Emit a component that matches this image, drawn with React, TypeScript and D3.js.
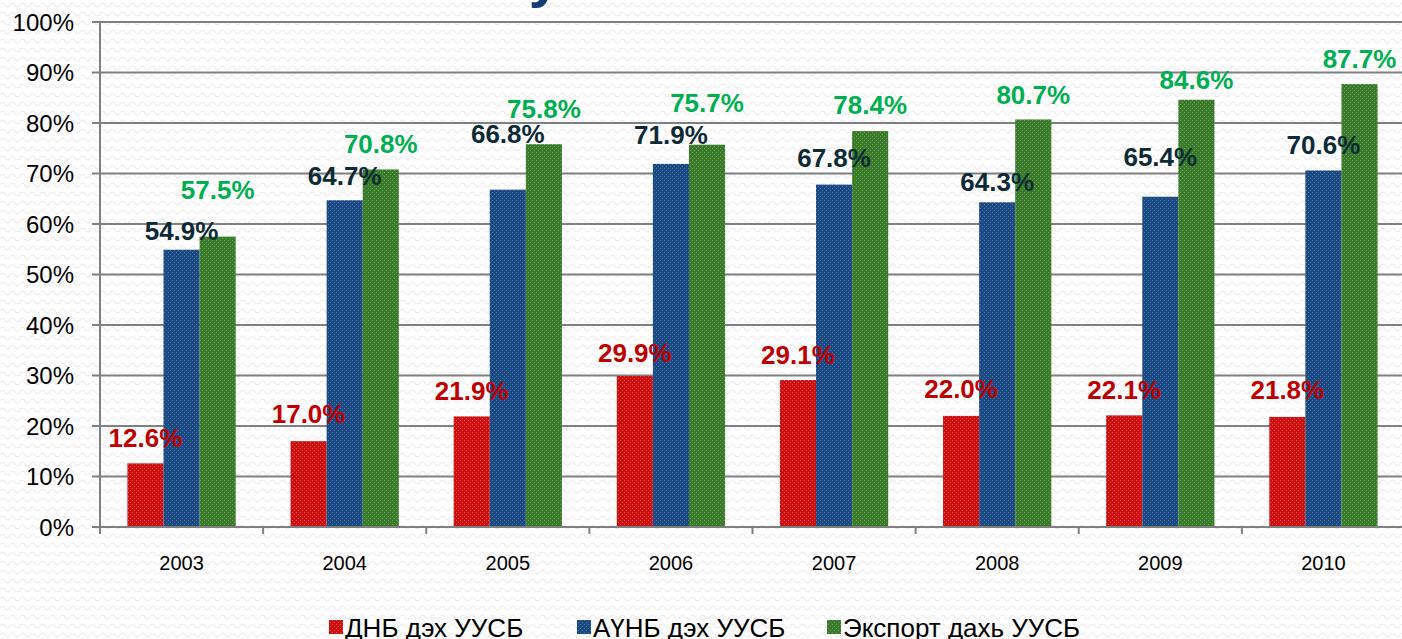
import * as d3 from 'd3';

const years = ['2003', '2004', '2005', '2006', '2007', '2008', '2009', '2010'];
const gnpShare = [12.6, 17.0, 21.9, 29.9, 29.1, 22.0, 22.1, 21.8];
const industryShare = [54.9, 64.7, 66.8, 71.9, 67.8, 64.3, 65.4, 70.6];
const exportShare = [57.5, 70.8, 75.8, 75.7, 78.4, 80.7, 84.6, 87.7];
const seriesNames = ['ДНБ дэх УУСБ', 'АҮНБ дэх УУСБ', 'Экспорт дахь УУСБ'];
const yTicks = [0, 10, 20, 30, 40, 50, 60, 70, 80, 90, 100];

const width = 1402;
const height = 639;
const left = 100;
const right = 1405;
const top = 22;
const bottom = 527;

const seriesStyle = [
  { key: 'red', base: '#cc1010', dot: '#e85050', label: '#c00000' },
  { key: 'blue', base: '#1b4a82', dot: '#4673a8', label: '#0d2b36' },
  { key: 'green', base: '#3a7b2b', dot: '#66a052', label: '#00b050' },
];
// how far above the bar top each hand-placed label sits (px)
const labelLift = [
  [26, 28, 26, 24, 26, 27, 26, 27],
  [19, 25, 56, 29, 27, 21, 40, 26],
  [47, 26, 36, 42, 27, 25, 20, 26],
];
const legendX = [329, 577, 827];

export default function App() {
  const series = [gnpShare, industryShare, exportShare];
  const x = d3.scaleBand().domain(years).range([left, right]).padding(0);
  const inner = d3
    .scaleBand()
    .domain(['0', '1', '2'])
    .range([0, x.bandwidth()])
    .paddingInner(0)
    .paddingOuter(0.76);
  const y = d3.scaleLinear().domain([0, 100]).range([bottom, top]);
  const boundaries = years.map((yr) => x(yr) ?? 0).concat([right]);

  return (
    <svg
      width={width}
      height={height}
      style={{ position: 'fixed', left: 0, top: 0, background: '#fff' }}
      fontFamily="'Liberation Sans', Arial, sans-serif"
    >
      <defs>
        <pattern id="bg" width="10" height="9" patternUnits="userSpaceOnUse">
          <path d="M0 5 Q2.5 1 5 5 T10 5" fill="none" stroke="#ececec" strokeWidth="1.2" />
        </pattern>
        {seriesStyle.map((s) => (
          <pattern key={s.key} id={`fill-${s.key}`} width="4" height="4" patternUnits="userSpaceOnUse">
            <rect width="4" height="4" fill={s.base} />
            <rect x="0" y="0" width="1" height="1" fill={s.dot} />
            <rect x="2" y="2" width="1" height="1" fill={s.dot} />
          </pattern>
        ))}
      </defs>
      <rect width={width} height={height} fill="url(#bg)" />

      <text x={545} y={-4} fontSize={58} fontWeight="bold" fill="#123f73" textAnchor="middle">
        у
      </text>

      {yTicks.map((t) => (
        <g key={t}>
          {t > 0 && (
            <line x1={left} x2={width} y1={y(t)} y2={y(t)} stroke="#808080" strokeWidth={2} />
          )}
          <line x1={left - 8} x2={left} y1={y(t)} y2={y(t)} stroke="#808080" strokeWidth={2} />
          <text x={74} y={y(t) + 8.5} fontSize={24} textAnchor="end" fill="#000">
            {t}%
          </text>
        </g>
      ))}

      {series.map((vals, si) =>
        vals.map((v, i) => (
          <rect
            key={`${si}-${i}`}
            x={(x(years[i]) ?? 0) + (inner(String(si)) ?? 0)}
            y={y(v)}
            width={inner.bandwidth()}
            height={bottom - y(v)}
            fill={`url(#fill-${seriesStyle[si].key})`}
          />
        ))
      )}

      <line x1={left} x2={left} y1={top} y2={bottom} stroke="#808080" strokeWidth={2} />
      <line x1={left} x2={width} y1={bottom} y2={bottom} stroke="#808080" strokeWidth={2} />
      {boundaries.map((b, i) => (
        <line key={i} x1={b} x2={b} y1={bottom} y2={bottom + 7} stroke="#808080" strokeWidth={2} />
      ))}
      {years.map((yr) => (
        <text
          key={yr}
          x={(x(yr) ?? 0) + x.bandwidth() / 2}
          y={570}
          fontSize={20}
          textAnchor="middle"
          fill="#000"
        >
          {yr}
        </text>
      ))}

      {series.map((vals, si) =>
        vals.map((v, i) => (
          <text
            key={`l-${si}-${i}`}
            x={(x(years[i]) ?? 0) + (inner(String(si)) ?? 0) + inner.bandwidth() / 2}
            y={y(v) - labelLift[si][i] + 9.5}
            fontSize={26}
            fontWeight="bold"
            textAnchor="middle"
            fill={seriesStyle[si].label}
          >
            {v.toFixed(1)}%
          </text>
        ))
      )}

      {seriesNames.map((name, si) => (
        <g key={name}>
          <rect x={legendX[si]} y={620} width={14} height={14} fill={`url(#fill-${seriesStyle[si].key})`} />
          <text x={legendX[si] + 16} y={637} fontSize={26} fill="#000">
            {name}
          </text>
        </g>
      ))}
    </svg>
  );
}
